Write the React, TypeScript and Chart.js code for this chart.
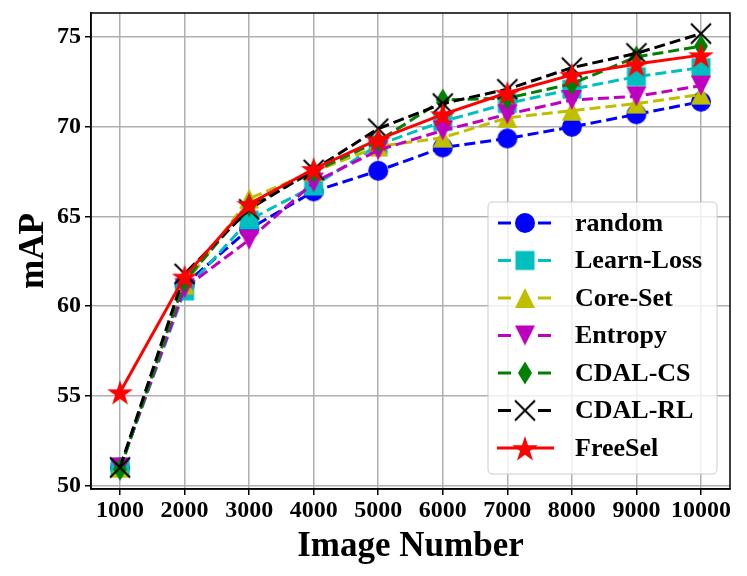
import React, { useEffect, useRef } from "react";
import { Chart, registerables } from "chart.js";

Chart.register(...registerables);

const imageNumbers = [1000, 2000, 3000, 4000, 5000, 6000, 7000, 8000, 9000, 10000];
const xTicks = [1000, 2000, 3000, 4000, 5000, 6000, 7000, 8000, 9000, 10000];
const yTicks = [50, 55, 60, 65, 70, 75];

const randomVals = [51.0, 61.2, 64.3, 66.4, 67.55, 68.85, 69.35, 70.0, 70.7, 71.4];
const learnLossVals = [51.0, 60.85, 64.8, 66.7, 69.0, 70.3, 71.3, 72.1, 72.8, 73.3];
const coreSetVals = [51.0, 61.2, 66.0, 67.5, 68.9, 69.4, 70.5, 70.9, 71.3, 71.8];
const entropyVals = [51.0, 61.0, 63.7, 66.9, 68.7, 69.8, 70.7, 71.5, 71.7, 72.3];
const cdalCsVals = [50.9, 61.4, 65.6, 67.5, 69.2, 71.5, 71.6, 72.4, 73.9, 74.5];
const cdalRlVals = [51.0, 61.8, 65.4, 67.6, 69.9, 71.3, 72.1, 73.3, 74.1, 75.2];
const freeSelVals = [55.2, 61.65, 65.7, 67.65, 69.3, 70.7, 71.9, 72.9, 73.5, 74.0];

const seriesNames = ["random", "Learn-Loss", "Core-Set", "Entropy", "CDAL-CS", "CDAL-RL", "FreeSel"];
const seriesValues = [randomVals, learnLossVals, coreSetVals, entropyVals, cdalCsVals, cdalRlVals, freeSelVals];
const seriesColors = ["#0000ff", "#00bfbf", "#bfbf00", "#bf00bf", "#008000", "#000000", "#ff0000"];
const seriesMarkers = ["circle", "square", "triUp", "triDown", "thinDiamond", "x", "star"];
const seriesDashed = [true, true, true, true, true, true, false];

const FONT = "'Liberation Serif', 'Times New Roman', Times, serif";

function makeMarker(kind: string, color: string): HTMLCanvasElement {
  const size = 32;
  const c = document.createElement("canvas");
  c.width = size;
  c.height = size;
  const ctx = c.getContext("2d")!;
  ctx.translate(size / 2, size / 2);
  ctx.fillStyle = color;
  ctx.strokeStyle = color;
  ctx.lineJoin = "miter";
  ctx.beginPath();
  if (kind === "circle") {
    ctx.arc(0, 0, 10, 0, Math.PI * 2);
    ctx.fill();
  } else if (kind === "square") {
    ctx.rect(-9.5, -9.5, 19, 19);
    ctx.fill();
  } else if (kind === "triUp") {
    ctx.moveTo(0, -10);
    ctx.lineTo(10, 10);
    ctx.lineTo(-10, 10);
    ctx.closePath();
    ctx.fill();
  } else if (kind === "triDown") {
    ctx.moveTo(0, 10);
    ctx.lineTo(10, -10);
    ctx.lineTo(-10, -10);
    ctx.closePath();
    ctx.fill();
  } else if (kind === "thinDiamond") {
    ctx.moveTo(0, -11.5);
    ctx.lineTo(7, 0);
    ctx.lineTo(0, 11.5);
    ctx.lineTo(-7, 0);
    ctx.closePath();
    ctx.fill();
  } else if (kind === "x") {
    ctx.lineWidth = 2;
    ctx.moveTo(-10, -10);
    ctx.lineTo(10, 10);
    ctx.moveTo(10, -10);
    ctx.lineTo(-10, 10);
    ctx.stroke();
  } else if (kind === "star") {
    const outer = 13.5;
    const inner = outer * 0.381966;
    for (let i = 0; i < 10; i++) {
      const r = i % 2 === 0 ? outer : inner;
      const a = -Math.PI / 2 + (i * Math.PI) / 5;
      const px = r * Math.cos(a);
      const py = r * Math.sin(a) + 1.5;
      if (i === 0) ctx.moveTo(px, py);
      else ctx.lineTo(px, py);
    }
    ctx.closePath();
    ctx.fill();
  }
  return c;
}

export default function App() {
  const ref = useRef<HTMLCanvasElement | null>(null);

  useEffect(() => {
    const canvas = ref.current;
    if (!canvas) return;
    const markers = seriesNames.map((_, i) => makeMarker(seriesMarkers[i], seriesColors[i]));

    const frameAndLegend = {
      id: "frameAndLegend",
      afterDraw(chart: any) {
        const ctx = chart.ctx as CanvasRenderingContext2D;
        const a = chart.chartArea;
        ctx.save();
        ctx.strokeStyle = "#000";
        ctx.lineWidth = 1.5;
        ctx.strokeRect(a.left, a.top, a.right - a.left, a.bottom - a.top);

        // legend box
        const bx = 488, by = 202, bw = 229, bh = 272, r = 5;
        ctx.beginPath();
        ctx.moveTo(bx + r, by);
        ctx.lineTo(bx + bw - r, by);
        ctx.quadraticCurveTo(bx + bw, by, bx + bw, by + r);
        ctx.lineTo(bx + bw, by + bh - r);
        ctx.quadraticCurveTo(bx + bw, by + bh, bx + bw - r, by + bh);
        ctx.lineTo(bx + r, by + bh);
        ctx.quadraticCurveTo(bx, by + bh, bx, by + bh - r);
        ctx.lineTo(bx, by + r);
        ctx.quadraticCurveTo(bx, by, bx + r, by);
        ctx.closePath();
        ctx.fillStyle = "rgba(255,255,255,0.8)";
        ctx.fill();
        ctx.strokeStyle = "#cccccc";
        ctx.lineWidth = 1;
        ctx.stroke();

        const rowY0 = 223, rowStep = 37.5;
        ctx.font = `bold 26px ${FONT}`;
        ctx.textBaseline = "middle";
        ctx.textAlign = "left";
        seriesNames.forEach((name, i) => {
          const y = rowY0 + i * rowStep;
          ctx.strokeStyle = seriesColors[i];
          ctx.lineWidth = 3;
          ctx.setLineDash([]);
          ctx.beginPath();
          if (seriesDashed[i]) {
            ctx.moveTo(498, y);
            ctx.lineTo(511, y);
            ctx.moveTo(538, y);
            ctx.lineTo(551, y);
          } else {
            ctx.moveTo(497, y);
            ctx.lineTo(554, y);
          }
          ctx.stroke();
          const m = markers[i];
          ctx.drawImage(m, 525 - m.width / 2, y - m.height / 2);
          ctx.fillStyle = "#000";
          ctx.fillText(name, 575, y + 1);
        });
        ctx.restore();
      },
    };

    const datasets = seriesNames.map((name, i) => ({
      label: name,
      data: imageNumbers.map((x, j) => ({ x, y: seriesValues[i][j] })),
      borderColor: seriesColors[i],
      backgroundColor: seriesColors[i],
      borderWidth: 3,
      borderDash: seriesDashed[i] ? [11, 5] : [],
      pointStyle: markers[i],
      pointRadius: 10,
      pointHoverRadius: 10,
      tension: 0,
      fill: false,
      order: seriesNames.length - i,
    }));

    const chart = new Chart(canvas, {
      type: "line",
      data: { datasets },
      plugins: [frameAndLegend],
      options: {
        animation: false,
        responsive: false,
        devicePixelRatio: 1,
        layout: { padding: { top: 13, right: 17, left: 0, bottom: 0 } },
        plugins: { legend: { display: false }, tooltip: { enabled: false } },
        scales: {
          x: {
            type: "linear",
            min: 550,
            max: 10450,
            afterFit: (scale: any) => {
              scale.height = 87;
              scale.paddingLeft = 0;
              scale.paddingRight = 0;
            },
            afterBuildTicks: (scale: any) => {
              scale.ticks = xTicks.map((v) => ({ value: v }));
            },
            grid: {
              color: "#b0b0b0",
              lineWidth: 1.5,
              tickColor: "#000",
              tickLength: 6,
              tickWidth: 1.5,
            },
            border: { color: "#000", width: 1.5 },
            ticks: {
              color: "#000",
              font: { family: FONT, size: 24, weight: "bold" },
              padding: 1,
              maxRotation: 0,
              autoSkip: false,
              callback: (v: any) => String(v),
            },
            title: {
              display: true,
              text: "Image Number",
              color: "#000",
              font: { family: FONT, size: 35, weight: "bold" },
              padding: { top: 0, bottom: 8 },
            },
          },
          y: {
            type: "linear",
            min: 49.8,
            max: 76.35,
            afterFit: (scale: any) => {
              scale.width = 91;
              scale.paddingTop = 0;
              scale.paddingBottom = 0;
            },
            afterBuildTicks: (scale: any) => {
              scale.ticks = yTicks.map((v) => ({ value: v }));
            },
            grid: {
              color: "#b0b0b0",
              lineWidth: 1.5,
              tickColor: "#000",
              tickLength: 6,
              tickWidth: 1.5,
            },
            border: { color: "#000", width: 1.5 },
            ticks: {
              color: "#000",
              font: { family: FONT, size: 24, weight: "bold" },
              padding: 4,
              callback: (v: any) => String(v),
            },
            title: {
              display: true,
              text: "mAP",
              color: "#000",
              font: { family: FONT, size: 35, weight: "bold" },
              padding: { top: 13, bottom: 0 },
            },
          },
        },
      },
    } as any);

    return () => chart.destroy();
  }, []);

  return (
    <div style={{ position: "absolute", left: 0, top: 0, width: 747, height: 576, background: "#fff" }}>
      <canvas ref={ref} width={747} height={576} style={{ display: "block", width: 747, height: 576 }} />
    </div>
  );
}
